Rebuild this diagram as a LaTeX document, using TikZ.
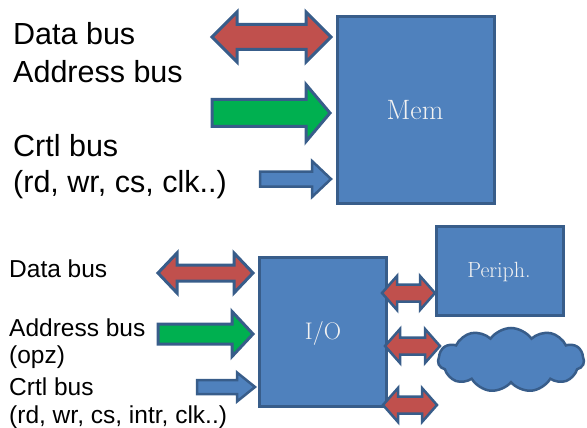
\documentclass[tikz,border=0pt]{standalone}
\usepackage{fontspec}
\setsansfont{Liberation Sans}
\usetikzlibrary{shapes.symbols}

\definecolor{boxfill}{HTML}{4F81BD}
\definecolor{boxline}{HTML}{385D8A}
\definecolor{datared}{HTML}{C0504D}
\definecolor{addrgreen}{HTML}{00B050}
\definecolor{labelwhite}{HTML}{F2F2F2}

% double-headed block arrow: x1, x2, y-centre, shaft half, head half, head length
\newcommand{\blockdouble}[7][]{%
  \draw[#1] (#2,#4) -- ({#2+#7},{#4-#6}) -- ({#2+#7},{#4-#5}) -- ({#3-#7},{#4-#5})
    -- ({#3-#7},{#4-#6}) -- (#3,#4) -- ({#3-#7},{#4+#6}) -- ({#3-#7},{#4+#5})
    -- ({#2+#7},{#4+#5}) -- ({#2+#7},{#4+#6}) -- cycle;}
% single-headed block arrow pointing right
\newcommand{\blocksingle}[7][]{%
  \draw[#1] (#2,{#4-#5}) -- ({#3-#7},{#4-#5}) -- ({#3-#7},{#4-#6}) -- (#3,#4)
    -- ({#3-#7},{#4+#6}) -- ({#3-#7},{#4+#5}) -- (#2,{#4+#5}) -- cycle;}

\tikzset{
  unit/.style={draw=boxline, fill=boxfill, line width=3pt, line join=miter},
  redarrow/.style={draw=boxline, fill=datared, line width=3pt, line join=miter},
  greenarrow/.style={draw=boxline, fill=addrgreen, line width=3pt, line join=miter},
  bluearrow/.style={draw=boxline, fill=boxfill, line width=2.5pt, line join=miter},
  biglabel/.style={anchor=base west, inner sep=0pt, font=\sffamily\fontsize{30.5}{36}\selectfont},
  smalllabel/.style={anchor=base west, inner sep=0pt, font=\sffamily\fontsize{24.5}{29}\selectfont},
  boxtext/.style={text=labelwhite, inner sep=0pt}
}

\begin{document}
\begin{tikzpicture}[x=1pt, y=-1pt]
  \useasboundingbox (0,0) rectangle (587,428);

  % memory block with its buses
  \draw[unit] (337,17) rectangle (494,203);
  \node[boxtext, font=\fontsize{28}{32}\selectfont] (mem) at (415,110) {Mem};

  \node[biglabel] (dbus) at (13,45) {Data bus};
  \node[biglabel] (abus) at (13,83) {Address bus};
  \node[biglabel] (cbus) at (13,157) {Crtl bus};
  \node[biglabel] (csig) at (13,192) {(rd, wr, cs, clk..)};

  \blockdouble[redarrow]{212}{331}{37}{12.5}{25}{25}
  \blocksingle[greenarrow]{212}{330}{113}{13.5}{28.5}{24}
  \blocksingle[bluearrow]{260}{331}{179}{7.5}{18}{19}

  % I/O block with its buses
  \draw[unit] (259,257) rectangle (386,406);
  \node[boxtext, font=\fontsize{24}{28}\selectfont] (io) at (323,333) {I/O};

  \node[smalllabel] (iodbus) at (9,277) {Data bus};
  \node[smalllabel] (ioabus) at (9,336) {Address bus};
  \node[smalllabel] (ioopz) at (9,363) {(opz)};
  \node[smalllabel] (iocbus) at (9,395) {Crtl bus};
  \node[smalllabel] (iocsig) at (9,423) {(rd, wr, cs, intr, clk..)};

  \blockdouble[redarrow]{158}{253}{273}{8}{20}{19}
  \blocksingle[greenarrow]{158}{253}{334}{10}{22.5}{21}
  \blocksingle[bluearrow, line width=2.5pt]{197}{255}{387}{7}{14.5}{18}

  % peripheral side
  \draw[unit] (436,226) rectangle (563,315);
  \node[boxtext, font=\fontsize{22}{26}\selectfont] (periph) at (499,272) {Periph.};

  \node[cloud, cloud puffs=11, cloud puff arc=110, aspect=2.4,
        draw=boxline, fill=boxfill, line width=2.5pt, inner sep=0pt,
        minimum width=146pt, minimum height=64pt] (ext) at (511,360) {};

  \blockdouble[redarrow, line width=2.5pt]{382}{435}{293}{8.5}{17}{15}
  \blockdouble[redarrow, line width=2.5pt]{385}{440}{346}{8.5}{17}{15}
  \blockdouble[redarrow, line width=2.5pt]{383}{437}{405}{8.5}{17}{15}
\end{tikzpicture}
\end{document}
